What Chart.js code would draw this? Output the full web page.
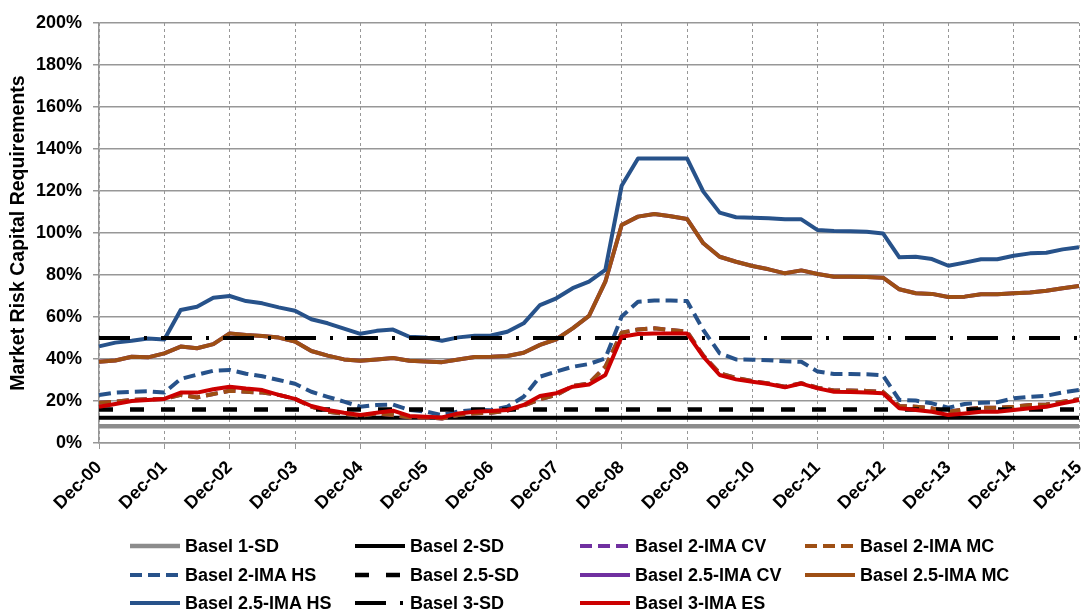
<!DOCTYPE html>
<html>
<head>
<meta charset="utf-8">
<title>Market Risk Capital Requirements</title>
<script src="https://cdn.jsdelivr.net/npm/chart.js@4.4.1/dist/chart.umd.min.js"></script>
<style>
    html, body { margin: 0; padding: 0; background: #fff; }
    #wrap { position: relative; width: 1084px; height: 612px; }
    #chart { position: absolute; left: 0; top: 0; }
    .legend-item {
        position: absolute;
        display: flex;
        align-items: center;
        height: 20px;
        font: bold 18px 'Liberation Sans', Arial, sans-serif;
        color: #000;
        white-space: nowrap;
    }
    .legend-item svg { margin-right: 5px; }
</style>
</head>
<body>
<div id="wrap">
    <canvas id="chart" width="1084" height="612"></canvas>
    <div id="legend"></div>
</div>
<script>
// Year-end tick labels; the series are quarterly between them
const yearLabels = ['Dec-00', 'Dec-01', 'Dec-02', 'Dec-03', 'Dec-04', 'Dec-05', 'Dec-06', 'Dec-07',
    'Dec-08', 'Dec-09', 'Dec-10', 'Dec-11', 'Dec-12', 'Dec-13', 'Dec-14', 'Dec-15'];

const yTicks = [0, 20, 40, 60, 80, 100, 120, 140, 160, 180, 200];

// Flat standardised-approach levels (% of capital)
const basel1SD = 8;
const basel2SD = 12;
const basel25SD = 16;
const basel3SD = 50;

// Internal-model series, one value per quarter (Dec-00 .. Dec-15)
const ima2CV = [
    19.2, 19.7, 20.5, 20.8, 21.0, 22.9, 21.7, 23.3, 24.9, 24.4, 24.0, 22.9,
    21.0, 17.3, 14.9, 13.9, 12.9, 14.1, 13.3, 12.2, 12.2, 11.7, 13.3, 14.1,
    14.4, 15.4, 17.8, 20.8, 22.9, 27.1, 28.4, 36.3, 52.5, 54.1, 54.6, 53.8,
    53.0, 41.6, 33.2, 31.0, 29.5, 28.3, 26.8, 28.5, 26.3, 25.0, 25.0, 24.8,
    24.3, 17.6, 17.3, 16.5, 14.9, 16.0, 16.8, 16.8, 17.3, 18.1, 18.3, 19.7,
    20.8
];
const ima2MC = [
    19.2, 19.7, 20.5, 20.8, 21.0, 22.9, 21.7, 23.3, 24.9, 24.4, 24.0, 22.9,
    21.0, 17.3, 14.9, 13.9, 12.9, 14.1, 13.3, 12.2, 12.2, 11.7, 13.3, 14.1,
    14.4, 15.4, 17.8, 20.8, 22.9, 27.1, 28.4, 36.3, 52.5, 54.1, 54.6, 53.8,
    53.0, 41.6, 33.2, 31.0, 29.5, 28.3, 26.8, 28.5, 26.3, 25.0, 25.0, 24.8,
    24.3, 17.6, 17.3, 16.5, 14.9, 16.0, 16.8, 16.8, 17.3, 18.1, 18.3, 19.7,
    20.8
];
const ima2HS = [
    22.9, 24.0, 24.4, 24.6, 24.0, 30.5, 32.5, 34.4, 34.8, 33.0, 31.8, 30.0,
    28.2, 24.4, 22.0, 19.7, 17.3, 18.1, 18.3, 15.7, 15.0, 13.3, 15.0, 15.7,
    15.6, 17.3, 22.0, 31.6, 34.0, 36.3, 37.6, 40.3, 60.2, 67.3, 67.8, 67.8,
    67.6, 53.8, 42.7, 39.8, 39.7, 39.4, 38.9, 38.7, 34.0, 32.9, 32.9, 32.7,
    32.2, 20.5, 20.2, 18.9, 16.8, 18.6, 19.2, 19.4, 21.3, 22.0, 22.5, 24.1,
    25.2
];
const ima25CV = [
    38.7, 39.3, 41.1, 40.8, 42.7, 45.9, 45.1, 47.1, 52.2, 51.4, 51.0, 50.2,
    48.3, 43.8, 41.6, 39.8, 39.2, 39.8, 40.5, 39.2, 38.8, 38.5, 39.8, 41.0,
    41.1, 41.4, 43.0, 46.7, 49.4, 54.6, 60.5, 76.8, 103.8, 107.8, 109.0, 108.0,
    106.7, 95.1, 88.7, 86.3, 84.3, 82.7, 80.8, 82.2, 80.5, 79.2, 79.2, 79.0,
    78.7, 73.2, 71.3, 71.0, 69.5, 69.7, 70.8, 70.8, 71.3, 71.7, 72.5, 73.7,
    74.8
];
const ima25MC = [
    38.7, 39.3, 41.1, 40.8, 42.7, 45.9, 45.1, 47.1, 52.2, 51.4, 51.0, 50.2,
    48.3, 43.8, 41.6, 39.8, 39.2, 39.8, 40.5, 39.2, 38.8, 38.5, 39.8, 41.0,
    41.1, 41.4, 43.0, 46.7, 49.4, 54.6, 60.5, 76.8, 103.8, 107.8, 109.0, 108.0,
    106.7, 95.1, 88.7, 86.3, 84.3, 82.7, 80.8, 82.2, 80.5, 79.2, 79.2, 79.0,
    78.7, 73.2, 71.3, 71.0, 69.5, 69.7, 70.8, 70.8, 71.3, 71.7, 72.5, 73.7,
    74.8
];
const ima25HS = [
    46.0, 47.8, 48.7, 49.8, 49.3, 63.3, 64.9, 69.2, 70.0, 67.6, 66.5, 64.6,
    63.0, 58.9, 57.0, 54.5, 52.0, 53.4, 54.0, 50.6, 50.2, 48.7, 50.3, 51.1,
    51.2, 53.0, 57.0, 65.7, 68.9, 73.7, 76.8, 82.4, 122.5, 135.5, 135.5, 135.5,
    135.5, 119.7, 109.7, 107.5, 107.3, 107.0, 106.5, 106.5, 101.4, 101.0, 100.8, 100.6,
    99.8, 88.4, 88.7, 87.6, 84.4, 85.9, 87.5, 87.5, 89.2, 90.3, 90.6, 92.2,
    93.2
];
const ima3ES = [
    17.3, 18.6, 20.0, 20.5, 21.0, 24.0, 24.0, 25.6, 26.8, 25.9, 25.2, 22.9,
    21.0, 17.6, 15.7, 14.4, 13.3, 14.4, 15.4, 12.9, 12.5, 12.2, 14.1, 14.9,
    15.2, 15.7, 18.1, 22.4, 23.7, 26.8, 27.9, 32.4, 50.6, 51.9, 52.2, 52.2,
    52.2, 41.1, 32.4, 30.3, 29.2, 28.1, 26.5, 28.3, 26.0, 24.4, 24.3, 24.1,
    23.7, 16.5, 15.7, 14.9, 13.3, 14.1, 14.9, 14.9, 15.7, 16.5, 17.3, 18.9,
    20.5
];

// Quarter labels: Dec-00, Mar-01, Jun-01, Sep-01, Dec-01, ...
const quarterLabels = [];
yearLabels.forEach((dec, i) => {
    quarterLabels.push(dec);
    if (i < yearLabels.length - 1) {
        const yy = yearLabels[i + 1].slice(4);
        ['Mar', 'Jun', 'Sep'].forEach((m) => quarterLabels.push(m + '-' + yy));
    }
});

const flat = (level) => quarterLabels.map(() => level);

const BLUE = '#27528A';
const BROWN = '#9E4F14';
const PURPLE = '#7030A0';
const RED = '#CC0000';
const GREY = '#8C8C8C';
const GRID = '#979797';

const DASH = [12, 6];
const LONG_DASH = [14, 17];
const DASH_DOT = [31, 14, 3, 14];

// Legend order; later series are painted on top
const series = [
    { label: 'Basel 1-SD', data: flat(basel1SD), color: GREY, dash: [], width: 4.5 },
    { label: 'Basel 2-SD', data: flat(basel2SD), color: '#000', dash: [], width: 4 },
    { label: 'Basel 2-IMA CV', data: ima2CV, color: PURPLE, dash: DASH, width: 4 },
    { label: 'Basel 2-IMA MC', data: ima2MC, color: BROWN, dash: DASH, width: 4 },
    { label: 'Basel 2-IMA HS', data: ima2HS, color: BLUE, dash: DASH, width: 4 },
    { label: 'Basel 2.5-SD', data: flat(basel25SD), color: '#000', dash: LONG_DASH, width: 4.5 },
    { label: 'Basel 2.5-IMA CV', data: ima25CV, color: PURPLE, dash: [], width: 4 },
    { label: 'Basel 2.5-IMA MC', data: ima25MC, color: BROWN, dash: [], width: 4 },
    { label: 'Basel 2.5-IMA HS', data: ima25HS, color: BLUE, dash: [], width: 4 },
    { label: 'Basel 3-SD', data: flat(basel3SD), color: '#000', dash: DASH_DOT, width: 4 },
    { label: 'Basel 3-IMA ES', data: ima3ES, color: RED, dash: [], width: 4 },
];

Chart.defaults.font.family = "'Liberation Sans', Arial, sans-serif";
Chart.defaults.font.weight = 'bold';
Chart.defaults.font.size = 18;
Chart.defaults.color = '#000';

const yearGrid = (ctx) => (ctx.index % 4 === 0 ? GRID : 'rgba(0,0,0,0)');

const chart = new Chart(document.getElementById('chart').getContext('2d'), {
    type: 'line',
    data: {
        labels: quarterLabels,
        datasets: series.map((s, i) => ({
            label: s.label,
            data: s.data,
            borderColor: s.color,
            backgroundColor: s.color,
            borderWidth: s.width,
            borderDash: s.dash,
            borderCapStyle: 'butt',
            borderJoinStyle: 'round',
            pointRadius: 0,
            tension: 0,
            fill: false,
            order: series.length - i,
        })),
    },
    options: {
        responsive: false,
        animation: false,
        layout: { padding: { top: 23, right: 5, left: 0, bottom: 0 } },
        plugins: {
            legend: { display: false },
            tooltip: { enabled: false },
        },
        scales: {
            x: {
                grid: { color: yearGrid, tickColor: yearGrid, lineWidth: 1, tickLength: 6 },
                border: { display: true, color: GRID, width: 1.5, dash: [3, 3] },
                ticks: {
                    autoSkip: false,
                    minRotation: 45,
                    maxRotation: 45,
                    padding: 8,
                    callback(value, index) {
                        return index % 4 === 0 ? this.getLabelForValue(value) : '';
                    },
                },
                afterFit(scale) {
                    scale.height = 169;
                    scale.paddingRight = 0;
                },
            },
            y: {
                min: yTicks[0],
                max: yTicks[yTicks.length - 1],
                afterBuildTicks(scale) {
                    scale.ticks = yTicks.map((v) => ({ value: v }));
                },
                ticks: { padding: 11, callback: (v) => v + '%' },
                grid: { color: GRID, lineWidth: 1.5, tickLength: 6 },
                border: { color: GRID, width: 1.5 },
                title: {
                    display: true,
                    text: 'Market Risk Capital Requirements',
                    font: { size: 19.5 },
                    padding: { top: 7, bottom: 0 },
                },
                afterFit(scale) {
                    scale.width = 99;
                },
            },
        },
    },
});

// Four-column legend under the plot, built from the datasets
const legendCols = [130, 355, 580, 805];
const legendRows = [546, 575, 603];
const legendEl = document.getElementById('legend');
chart.data.datasets.forEach((ds, i) => {
    const item = document.createElement('div');
    item.className = 'legend-item';
    item.style.left = legendCols[i % 4] + 'px';
    item.style.top = (legendRows[Math.floor(i / 4)] - 10) + 'px';
    const dash = ds.borderDash.length ? ds.borderDash.join(' ') : 'none';
    item.innerHTML =
        '<svg width="50" height="10"><line x1="0" y1="5" x2="50" y2="5" stroke="' + ds.borderColor +
        '" stroke-width="' + ds.borderWidth + '" stroke-dasharray="' + dash + '"/></svg>';
    const text = document.createElement('span');
    text.textContent = ds.label;
    item.appendChild(text);
    legendEl.appendChild(item);
});
</script>
</body>
</html>
